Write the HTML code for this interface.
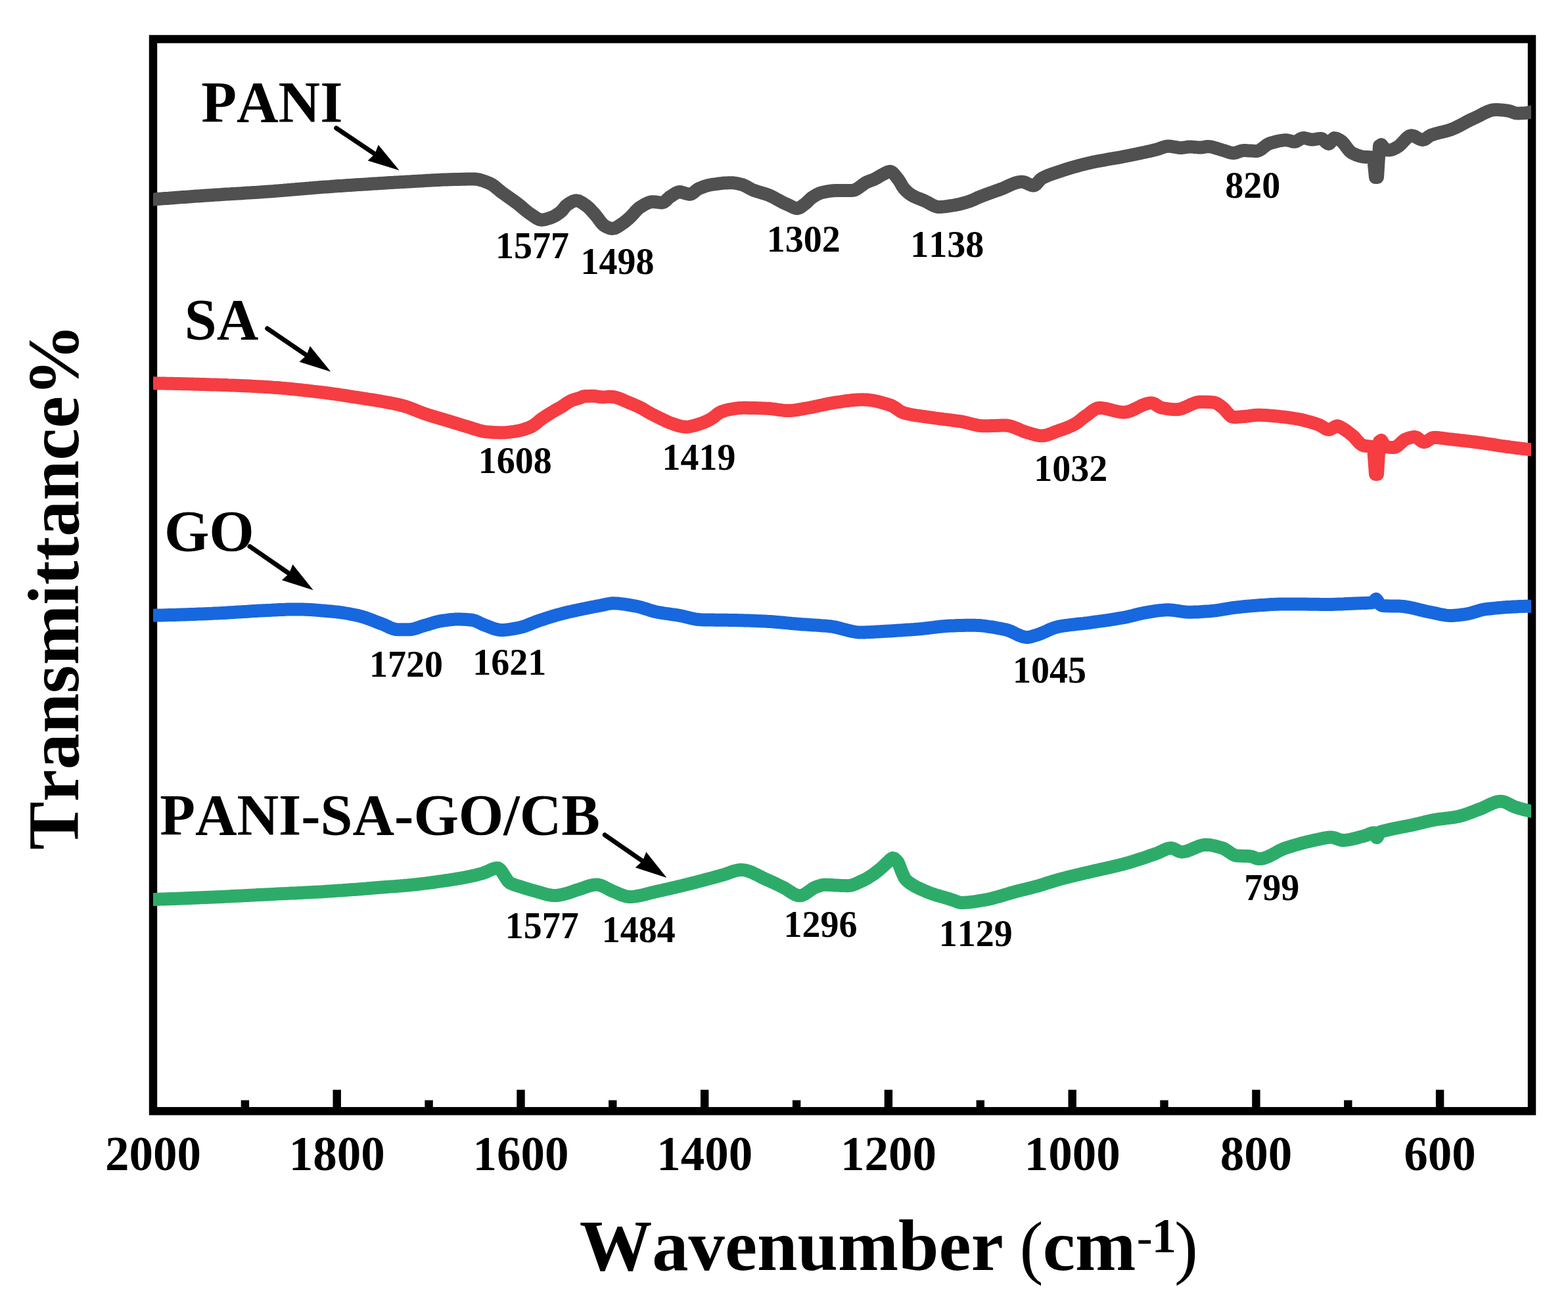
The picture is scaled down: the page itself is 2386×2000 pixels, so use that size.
<!DOCTYPE html><html><head><meta charset="utf-8"><title>FTIR spectra</title><style>html,body{margin:0;padding:0;background:#fff;}svg{display:block;filter:blur(0.7px);}text{font-family:"Liberation Serif","Times New Roman",serif;font-weight:bold;fill:#000;font-kerning:none;}</style></head><body>
<svg xmlns="http://www.w3.org/2000/svg" width="2386" height="2000" viewBox="0 0 2386 2000">
<rect width="2386" height="2000" fill="#fff"/>
<rect x="233.0" y="59.5" width="2098.0" height="1631.7" fill="none" stroke="#000" stroke-width="12.4"/>
<defs><clipPath id="pc"><rect x="233" y="0" width="2097" height="2000"/></clipPath></defs>
<g fill="none" stroke-width="20" stroke-linejoin="round" stroke-linecap="butt" clip-path="url(#pc)">
<polyline stroke="#505050" points="224.0,303.5 233.0,303.5 236.0,303.3 239.0,303.0 242.0,302.8 245.0,302.6 248.0,302.3 251.0,302.1 254.0,301.9 257.0,301.7 260.0,301.4 263.0,301.2 266.0,301.0 269.0,300.8 272.0,300.6 275.0,300.3 278.0,300.1 281.0,299.9 284.0,299.7 287.0,299.5 290.0,299.3 293.0,299.0 296.0,298.8 299.0,298.6 302.0,298.4 305.0,298.2 308.0,298.0 311.0,297.8 314.0,297.6 317.0,297.4 318.0,297.3 320.0,297.2 323.0,297.0 326.0,296.8 329.0,296.6 332.0,296.4 335.0,296.2 338.0,296.0 341.0,295.8 344.0,295.6 347.0,295.4 350.0,295.3 353.0,295.1 356.0,294.9 359.0,294.7 362.0,294.5 365.0,294.4 368.0,294.2 371.0,294.0 374.0,293.8 377.0,293.6 380.0,293.4 383.0,293.2 386.0,293.0 389.0,292.9 392.0,292.7 395.0,292.5 398.0,292.3 401.0,292.1 404.0,291.8 406.0,291.7 407.0,291.6 410.0,291.4 413.0,291.2 416.0,291.0 419.0,290.7 422.0,290.5 425.0,290.3 428.0,290.0 431.0,289.8 434.0,289.5 437.0,289.3 440.0,289.0 443.0,288.8 446.0,288.5 449.0,288.3 452.0,288.0 455.0,287.7 458.0,287.5 461.0,287.2 464.0,287.0 467.0,286.7 470.0,286.5 473.0,286.2 476.0,286.0 479.0,285.7 482.0,285.5 485.0,285.3 488.0,285.0 491.0,284.8 494.0,284.6 497.0,284.4 500.0,284.2 503.0,284.0 506.0,283.7 509.0,283.5 512.0,283.3 515.0,283.1 518.0,282.9 521.0,282.7 524.0,282.5 527.0,282.3 530.0,282.1 533.0,281.9 536.0,281.7 539.0,281.5 542.0,281.3 545.0,281.1 548.0,280.9 551.0,280.7 554.0,280.6 557.0,280.4 560.0,280.2 563.0,280.0 566.0,279.8 569.0,279.6 572.0,279.4 575.0,279.2 578.0,279.0 581.0,278.9 582.0,278.8 584.0,278.7 587.0,278.5 590.0,278.3 593.0,278.1 596.0,277.9 599.0,277.8 602.0,277.6 605.0,277.4 608.0,277.2 611.0,277.0 614.0,276.9 617.0,276.7 620.0,276.5 623.0,276.4 626.0,276.2 629.0,276.0 632.0,275.9 633.0,275.8 635.0,275.7 638.0,275.5 641.0,275.4 644.0,275.2 647.0,275.0 650.0,274.8 653.0,274.7 656.0,274.5 659.0,274.3 662.0,274.2 665.0,274.0 668.0,273.9 671.0,273.7 674.0,273.6 677.0,273.5 680.0,273.4 683.0,273.3 686.0,273.2 689.0,273.1 692.0,273.0 695.0,272.9 698.0,272.9 701.0,272.8 704.0,272.7 707.0,272.7 710.0,272.6 713.0,272.6 716.0,272.5 719.0,272.5 721.0,272.5 722.0,272.5 725.0,272.8 728.0,273.2 731.0,274.0 734.0,274.8 737.0,275.9 740.0,277.0 743.0,278.2 746.0,279.5 749.0,281.1 752.0,283.2 755.0,285.7 758.0,288.3 761.0,290.8 763.0,292.4 764.0,293.1 767.0,295.3 770.0,297.4 773.0,299.5 776.0,301.6 779.0,303.7 782.0,305.9 785.0,308.1 786.0,308.8 788.0,310.3 791.0,312.8 794.0,315.3 797.0,317.9 800.0,320.4 803.0,322.8 806.0,325.0 808.6,326.7 809.0,327.0 812.0,329.0 815.0,331.1 818.0,332.9 821.0,334.2 823.8,334.7 824.0,334.7 827.0,334.5 830.0,333.9 833.0,333.0 836.0,332.1 839.0,331.0 842.0,329.8 845.0,328.2 848.0,326.3 851.0,324.1 854.0,321.7 857.0,318.4 860.0,314.5 862.0,312.6 863.0,311.9 866.0,309.8 869.0,307.9 872.0,306.4 875.0,305.5 877.0,305.3 878.0,305.4 881.0,306.1 884.0,307.6 887.0,309.5 890.0,311.6 892.0,313.0 893.0,313.7 896.0,316.3 899.0,319.4 902.0,322.7 905.0,326.0 908.0,329.6 911.0,333.7 914.0,337.7 917.0,341.2 920.0,343.7 920.5,344.0 923.0,345.3 926.0,346.7 929.0,347.6 932.0,348.0 935.0,347.5 938.0,346.2 941.0,344.4 944.0,342.4 947.0,340.4 950.0,338.3 953.0,335.9 956.0,333.2 958.6,330.9 959.0,330.5 962.0,327.5 965.0,324.1 968.0,320.7 971.0,317.7 973.8,315.6 974.0,315.5 977.0,313.6 980.0,311.8 983.0,310.1 986.0,308.7 989.0,307.7 992.0,307.2 992.9,307.2 995.0,307.3 998.0,307.5 1001.0,307.9 1004.0,308.2 1007.0,308.4 1008.0,308.4 1010.0,307.9 1013.0,305.6 1016.0,302.6 1019.0,299.9 1019.5,299.6 1022.0,298.0 1025.0,296.0 1028.0,294.1 1031.0,292.7 1034.0,292.0 1034.8,292.0 1037.0,292.4 1040.0,293.4 1043.0,294.3 1046.0,295.1 1049.0,295.7 1050.0,295.7 1052.0,295.3 1055.0,293.4 1058.0,290.9 1061.0,288.5 1063.0,287.3 1064.0,286.9 1067.0,285.6 1070.0,284.5 1073.0,283.4 1076.0,282.5 1079.0,281.8 1082.0,281.2 1085.0,280.7 1088.0,280.3 1091.0,279.9 1094.0,279.5 1097.0,279.1 1100.0,278.8 1103.0,278.5 1106.0,278.4 1109.0,278.2 1112.0,278.2 1115.0,278.3 1118.0,278.6 1121.0,279.1 1124.0,279.7 1127.0,280.4 1127.6,280.5 1130.0,281.2 1133.0,282.5 1136.0,284.0 1139.0,285.7 1142.0,287.4 1145.0,288.9 1146.7,289.6 1148.0,290.1 1151.0,291.1 1154.0,292.0 1157.0,292.9 1160.0,293.8 1163.0,294.7 1166.0,295.6 1169.0,296.7 1169.5,296.9 1172.0,298.0 1175.0,299.4 1178.0,300.9 1181.0,302.6 1184.0,304.3 1187.0,305.9 1190.0,307.5 1192.4,308.7 1193.0,309.0 1196.0,310.4 1199.0,311.8 1201.4,312.8 1202.0,313.1 1205.0,314.6 1208.0,316.1 1211.0,317.1 1212.9,317.3 1214.0,317.2 1217.0,316.1 1220.0,314.1 1223.0,311.8 1224.3,310.9 1226.0,309.6 1229.0,306.7 1232.0,303.7 1235.0,301.1 1235.7,300.6 1238.0,299.1 1241.0,297.3 1244.0,295.6 1247.0,294.3 1250.0,293.2 1251.0,293.0 1253.0,292.6 1256.0,291.9 1259.0,291.4 1262.0,290.9 1265.0,290.5 1268.0,290.2 1271.0,290.0 1273.8,289.9 1274.0,289.9 1277.0,289.9 1280.0,289.9 1283.0,289.9 1286.0,289.9 1289.0,289.9 1292.0,289.9 1295.0,289.9 1296.7,289.9 1298.0,289.8 1301.0,289.0 1304.0,287.5 1307.0,285.5 1310.0,283.3 1313.0,281.0 1316.0,278.9 1319.0,277.2 1319.5,277.0 1322.0,276.0 1325.0,274.9 1328.0,273.8 1330.0,273.0 1331.0,272.5 1334.0,270.9 1337.0,269.1 1340.0,267.3 1342.4,266.0 1343.0,265.7 1346.0,264.1 1349.0,262.5 1352.0,261.3 1354.4,261.0 1355.0,261.0 1358.0,262.5 1361.0,265.6 1364.0,269.4 1366.6,272.7 1367.0,273.2 1370.0,277.9 1373.0,283.2 1375.7,287.1 1376.0,287.4 1379.0,290.6 1382.0,293.3 1385.0,295.6 1387.1,297.0 1388.0,297.5 1391.0,299.1 1394.0,300.5 1397.0,301.7 1400.0,302.9 1403.0,304.1 1406.0,305.3 1406.2,305.4 1409.0,306.7 1412.0,308.3 1415.0,310.0 1418.0,311.6 1421.0,313.1 1424.0,314.2 1427.0,314.9 1429.0,315.0 1430.0,315.0 1433.0,314.9 1436.0,314.6 1439.0,314.3 1442.0,313.9 1445.0,313.4 1448.0,313.0 1451.0,312.5 1452.0,312.3 1454.0,312.0 1457.0,311.4 1460.0,310.7 1463.0,310.0 1466.0,309.2 1469.0,308.4 1472.0,307.5 1474.8,306.6 1475.0,306.5 1478.0,305.4 1481.0,304.1 1484.0,302.7 1487.0,301.3 1490.0,300.0 1493.0,298.8 1496.0,297.7 1499.0,296.5 1502.0,295.4 1505.0,294.3 1508.0,293.3 1511.0,292.2 1514.0,291.1 1517.0,290.1 1520.0,289.0 1522.0,288.3 1523.0,287.9 1526.0,286.7 1529.0,285.4 1532.0,284.0 1535.0,282.6 1538.0,281.2 1541.0,280.0 1544.0,278.8 1547.0,277.9 1550.0,277.2 1553.0,276.8 1555.0,276.7 1556.0,276.8 1559.0,277.4 1562.0,278.6 1565.0,280.1 1568.0,281.4 1571.0,282.3 1573.0,282.5 1574.0,282.3 1577.0,280.2 1580.0,276.7 1583.0,273.3 1585.0,271.7 1586.0,271.1 1589.0,269.6 1592.0,268.2 1595.0,266.9 1598.0,265.8 1601.0,264.7 1604.0,263.7 1607.0,262.7 1610.0,261.7 1613.0,260.7 1616.0,259.7 1619.0,258.7 1622.0,257.8 1625.0,256.8 1628.0,255.9 1631.0,255.0 1634.0,254.2 1637.0,253.3 1640.0,252.5 1643.0,251.7 1646.0,250.9 1649.0,250.1 1652.0,249.4 1655.0,248.6 1658.0,248.0 1660.0,247.5 1661.0,247.3 1664.0,246.6 1667.0,246.0 1670.0,245.4 1673.0,244.9 1676.0,244.3 1679.0,243.8 1682.0,243.3 1685.0,242.7 1688.0,242.2 1691.0,241.7 1694.0,241.2 1697.0,240.7 1700.0,240.2 1703.0,239.6 1706.0,239.1 1709.0,238.5 1710.0,238.3 1712.0,237.9 1715.0,237.3 1718.0,236.7 1721.0,236.1 1724.0,235.5 1727.0,234.9 1730.0,234.3 1733.0,233.6 1736.0,233.0 1739.0,232.3 1742.0,231.7 1745.0,231.0 1748.0,230.4 1751.0,229.7 1754.0,229.0 1757.0,228.2 1760.0,227.5 1763.0,226.6 1766.0,225.5 1769.0,224.4 1772.0,223.5 1775.0,222.8 1778.0,222.5 1781.0,222.7 1784.0,223.1 1787.0,223.7 1790.0,224.2 1793.0,224.7 1796.0,225.0 1797.0,225.0 1799.0,224.9 1802.0,224.5 1805.0,224.0 1808.0,223.6 1810.0,223.5 1811.0,223.5 1814.0,223.6 1817.0,223.9 1820.0,224.1 1823.0,224.4 1826.0,224.5 1827.0,224.5 1829.0,224.4 1832.0,223.9 1835.0,223.3 1838.0,223.0 1841.0,223.2 1844.0,223.7 1847.0,224.4 1850.0,225.4 1853.0,226.3 1856.0,227.3 1859.0,228.2 1860.0,228.5 1862.0,229.1 1865.0,230.1 1868.0,231.1 1871.0,232.1 1874.0,232.7 1877.0,233.0 1880.0,232.6 1883.0,231.7 1886.0,230.6 1889.0,229.6 1892.0,229.0 1893.0,229.0 1895.0,229.0 1898.0,229.2 1901.0,229.4 1904.0,229.6 1907.0,229.8 1910.0,230.0 1912.0,230.0 1913.0,229.9 1916.0,229.0 1919.0,227.2 1922.0,224.9 1925.0,222.5 1928.0,220.3 1931.0,218.7 1932.0,218.3 1934.0,217.7 1937.0,216.8 1940.0,216.0 1943.0,215.2 1946.0,214.5 1949.0,214.0 1952.0,213.6 1955.0,213.3 1957.0,213.3 1958.0,213.3 1961.0,213.9 1964.0,214.7 1967.0,215.5 1970.0,215.8 1973.0,215.0 1976.0,213.2 1979.0,211.3 1982.0,210.1 1983.0,210.0 1985.0,210.1 1988.0,210.7 1991.0,211.5 1994.0,212.2 1997.0,212.5 2000.0,212.3 2003.0,211.7 2006.0,211.2 2009.0,210.8 2010.0,210.8 2012.0,211.4 2015.0,213.9 2018.0,216.9 2021.0,218.8 2022.0,219.0 2024.0,217.6 2027.0,212.8 2030.0,210.0 2033.0,210.5 2036.0,211.8 2039.0,213.4 2040.0,214.0 2042.0,215.5 2045.0,218.7 2048.0,222.7 2051.0,226.7 2054.0,230.2 2057.0,232.6 2060.0,234.1 2063.0,235.5 2066.0,236.6 2069.0,237.6 2072.0,238.3 2074.0,238.6 2075.0,238.7 2078.0,239.0 2081.0,239.1 2084.0,239.2 2087.0,239.5 2090.0,240.0 2093.0,270.0 2096.0,270.0 2099.0,222.0 2102.0,220.0 2105.0,223.9 2108.0,228.0 2111.0,228.4 2114.0,228.6 2117.0,228.2 2120.0,227.1 2123.0,225.6 2126.0,224.0 2129.0,222.0 2132.0,219.2 2135.0,216.0 2138.0,212.7 2141.0,209.8 2144.0,207.5 2147.0,206.4 2148.0,206.3 2150.0,206.6 2153.0,207.7 2156.0,209.4 2159.0,211.1 2162.0,212.4 2165.0,213.0 2168.0,212.1 2171.0,210.1 2174.0,207.8 2177.0,206.0 2180.0,204.9 2183.0,203.9 2186.0,203.1 2189.0,202.3 2192.0,201.6 2195.0,200.9 2198.0,200.1 2201.0,199.4 2204.0,198.5 2207.0,197.5 2210.0,196.4 2213.0,195.1 2216.0,193.7 2219.0,192.2 2222.0,190.7 2225.0,189.1 2228.0,187.5 2231.0,185.9 2234.0,184.3 2237.0,182.8 2240.0,181.4 2243.0,180.0 2246.0,178.6 2249.0,177.1 2252.0,175.6 2255.0,174.0 2258.0,172.4 2261.0,171.0 2264.0,169.7 2267.0,168.6 2270.0,167.7 2273.0,167.2 2276.0,167.0 2279.0,167.1 2282.0,167.2 2285.0,167.4 2288.0,167.7 2291.0,168.1 2294.0,168.5 2296.0,168.8 2297.0,169.0 2300.0,170.0 2303.0,171.2 2306.0,172.2 2308.0,172.4 2309.0,172.4 2312.0,172.4 2315.0,172.3 2318.0,172.2 2321.0,172.0 2324.0,171.6 2327.0,171.0 2330.0,170.3 2331.0,170.0 2342.0,170.0"/>
<polyline stroke="#F53D42" points="224.0,583.3 233.0,583.3 236.0,583.3 239.0,583.4 242.0,583.4 245.0,583.5 248.0,583.5 251.0,583.6 254.0,583.7 257.0,583.7 260.0,583.8 263.0,583.8 266.0,583.9 269.0,584.0 272.0,584.0 275.0,584.1 278.0,584.2 281.0,584.3 284.0,584.3 287.0,584.4 290.0,584.5 293.0,584.6 296.0,584.7 299.0,584.7 302.0,584.8 305.0,584.9 308.0,585.0 311.0,585.1 314.0,585.2 317.0,585.3 318.0,585.3 320.0,585.4 323.0,585.5 326.0,585.5 329.0,585.6 332.0,585.7 335.0,585.8 338.0,585.9 341.0,586.0 344.0,586.1 347.0,586.3 350.0,586.4 353.0,586.5 356.0,586.6 359.0,586.7 362.0,586.8 365.0,587.0 368.0,587.1 371.0,587.2 374.0,587.3 377.0,587.5 380.0,587.6 383.0,587.8 386.0,587.9 389.0,588.1 392.0,588.2 395.0,588.4 398.0,588.5 401.0,588.7 404.0,588.9 406.0,589.0 407.0,589.1 410.0,589.2 413.0,589.4 416.0,589.7 419.0,589.9 422.0,590.1 425.0,590.3 428.0,590.6 431.0,590.9 434.0,591.1 437.0,591.4 440.0,591.7 443.0,592.0 446.0,592.3 449.0,592.6 452.0,592.9 455.0,593.2 458.0,593.5 461.0,593.9 464.0,594.2 467.0,594.5 470.0,594.9 473.0,595.2 476.0,595.6 479.0,595.9 482.0,596.3 485.0,596.6 488.0,597.0 491.0,597.3 494.0,597.7 497.0,598.1 500.0,598.5 503.0,598.8 506.0,599.3 509.0,599.7 512.0,600.1 515.0,600.5 518.0,601.0 521.0,601.5 524.0,601.9 527.0,602.4 530.0,602.8 533.0,603.3 536.0,603.8 539.0,604.3 542.0,604.7 545.0,605.2 547.0,605.5 548.0,605.7 551.0,606.1 554.0,606.6 557.0,607.0 560.0,607.5 563.0,608.0 566.0,608.4 569.0,608.9 572.0,609.4 575.0,609.9 578.0,610.4 580.0,610.8 581.0,611.0 584.0,611.5 587.0,612.1 590.0,612.6 593.0,613.1 596.0,613.7 599.0,614.3 602.0,614.9 605.0,615.6 608.0,616.3 611.0,617.0 613.0,617.5 614.0,617.8 617.0,618.7 620.0,619.6 623.0,620.7 626.0,621.9 629.0,623.0 632.0,624.3 635.0,625.5 638.0,626.7 641.0,627.8 644.0,629.0 647.0,630.0 650.0,631.0 653.0,631.9 656.0,632.9 659.0,633.8 662.0,634.7 665.0,635.6 668.0,636.4 671.0,637.3 674.0,638.2 677.0,639.1 680.0,640.0 683.0,640.9 686.0,641.8 689.0,642.8 692.0,643.7 695.0,644.6 698.0,645.5 701.0,646.5 704.0,647.4 707.0,648.3 710.0,649.1 713.0,650.0 716.0,650.9 719.0,651.9 722.0,652.9 725.0,653.8 728.0,654.8 731.0,655.6 734.0,656.4 737.0,656.9 740.0,657.3 743.0,657.6 746.0,657.8 749.0,658.0 752.0,658.2 755.0,658.3 758.0,658.4 761.0,658.5 762.9,658.5 764.0,658.5 767.0,658.4 770.0,658.2 773.0,657.9 776.0,657.6 779.0,657.2 782.0,656.8 785.0,656.3 785.7,656.2 788.0,655.8 791.0,655.2 794.0,654.5 797.0,653.6 800.0,652.7 803.0,651.6 806.0,650.4 808.6,649.3 809.0,649.1 812.0,647.3 815.0,645.1 818.0,642.6 821.0,640.0 823.8,637.9 824.0,637.8 827.0,635.7 830.0,633.7 833.0,631.8 836.0,629.9 839.0,628.0 842.0,626.2 845.0,624.5 848.0,622.8 851.0,621.1 854.0,619.4 854.3,619.2 857.0,617.5 860.0,615.4 863.0,613.4 866.0,611.5 869.0,609.9 869.5,609.7 872.0,608.7 875.0,607.8 878.0,606.9 881.0,606.1 884.0,605.1 884.8,604.8 887.0,603.6 888.6,603.1 890.0,603.0 893.0,602.9 896.0,602.9 899.0,602.8 902.0,602.8 903.0,602.8 905.0,602.9 908.0,603.3 911.0,603.8 914.0,604.3 917.0,604.5 920.0,604.4 923.0,604.1 926.0,603.8 928.6,603.7 929.0,603.7 932.0,603.9 935.0,604.4 938.0,605.2 941.0,606.1 944.0,607.2 947.0,608.4 950.0,609.7 953.0,611.1 956.0,612.4 959.0,613.6 960.0,614.0 962.0,614.8 965.0,616.1 968.0,617.4 971.0,618.8 974.0,620.3 975.2,620.9 977.0,621.8 980.0,623.5 983.0,625.3 986.0,627.1 989.0,628.8 990.5,629.6 992.0,630.4 995.0,631.9 998.0,633.5 1001.0,634.9 1004.0,636.4 1005.7,637.2 1007.0,637.8 1010.0,639.3 1013.0,640.8 1016.0,642.1 1019.0,643.4 1021.0,644.1 1022.0,644.4 1025.0,645.5 1028.0,646.5 1031.0,647.5 1034.0,648.3 1037.0,649.0 1040.0,649.6 1043.0,649.8 1043.8,649.8 1046.0,649.7 1049.0,649.4 1052.0,648.8 1055.0,648.1 1058.0,647.3 1061.0,646.3 1064.0,645.4 1066.7,644.5 1067.0,644.4 1070.0,643.3 1073.0,642.1 1076.0,640.7 1079.0,639.2 1081.9,637.6 1082.0,637.5 1085.0,635.6 1088.0,633.2 1091.0,630.8 1094.0,628.6 1097.0,627.0 1100.0,625.9 1103.0,624.9 1106.0,624.1 1109.0,623.4 1112.0,622.9 1112.4,622.8 1115.0,622.4 1118.0,621.9 1121.0,621.5 1124.0,621.1 1127.0,620.9 1130.0,620.8 1133.0,620.8 1136.0,620.8 1139.0,620.9 1142.0,620.9 1145.0,621.0 1148.0,621.1 1151.0,621.1 1154.0,621.2 1157.0,621.3 1160.0,621.4 1163.0,621.5 1166.0,621.7 1167.0,621.7 1169.0,621.8 1172.0,622.0 1175.0,622.4 1178.0,622.7 1181.0,623.2 1184.0,623.6 1187.0,624.0 1190.0,624.4 1193.0,624.7 1196.0,624.9 1199.0,625.0 1200.0,625.0 1202.0,625.0 1205.0,624.8 1208.0,624.5 1211.0,624.1 1214.0,623.6 1217.0,623.1 1220.0,622.6 1223.0,622.0 1225.0,621.7 1226.0,621.5 1229.0,621.0 1232.0,620.5 1235.0,619.9 1238.0,619.2 1241.0,618.6 1244.0,618.0 1247.0,617.3 1250.0,616.7 1253.0,616.1 1256.0,615.4 1259.0,614.7 1262.0,614.2 1263.0,614.0 1265.0,613.7 1268.0,613.2 1271.0,612.7 1274.0,612.2 1277.0,611.8 1280.0,611.3 1283.0,610.9 1286.0,610.4 1289.0,610.0 1292.0,609.7 1295.0,609.3 1298.0,609.0 1301.0,608.8 1304.0,608.6 1307.0,608.4 1310.0,608.3 1313.0,608.3 1316.0,608.4 1319.0,608.5 1322.0,608.8 1325.0,609.2 1328.0,609.7 1331.0,610.2 1334.0,610.8 1337.0,611.5 1340.0,612.3 1343.0,613.1 1346.0,614.0 1349.0,614.8 1352.0,615.8 1355.0,616.7 1358.0,618.0 1361.0,619.8 1364.0,621.9 1367.0,624.0 1370.0,626.0 1373.0,627.6 1375.0,628.3 1376.0,628.6 1379.0,629.4 1382.0,630.1 1385.0,630.7 1388.0,631.3 1391.0,631.8 1394.0,632.3 1397.0,632.7 1400.0,633.2 1403.0,633.6 1406.0,634.0 1409.0,634.4 1412.0,634.8 1413.0,635.0 1415.0,635.3 1418.0,635.7 1421.0,636.2 1424.0,636.6 1427.0,636.9 1430.0,637.3 1433.0,637.7 1436.0,638.1 1439.0,638.4 1442.0,638.8 1445.0,639.2 1448.0,639.6 1451.0,640.0 1454.0,640.4 1457.0,640.8 1460.0,641.2 1463.0,641.7 1466.0,642.2 1469.0,642.9 1472.0,643.6 1475.0,644.4 1478.0,645.2 1481.0,645.9 1484.0,646.6 1487.0,647.3 1490.0,647.8 1493.0,648.1 1496.0,648.3 1497.0,648.3 1499.0,648.3 1502.0,648.3 1505.0,648.2 1508.0,648.1 1511.0,648.0 1514.0,647.9 1517.0,647.8 1520.0,647.7 1523.0,647.6 1526.0,647.5 1529.0,647.5 1530.0,647.5 1532.0,647.6 1535.0,648.0 1538.0,648.7 1541.0,649.7 1544.0,650.8 1547.0,652.0 1550.0,653.3 1553.0,654.6 1556.0,655.9 1559.0,657.0 1562.0,658.0 1563.0,658.3 1565.0,658.9 1568.0,659.7 1571.0,660.7 1574.0,661.5 1577.0,662.3 1580.0,662.9 1583.0,663.2 1585.0,663.3 1586.0,663.3 1589.0,663.0 1592.0,662.3 1595.0,661.5 1598.0,660.4 1601.0,659.3 1604.0,658.1 1607.0,656.9 1610.0,655.8 1613.0,654.8 1616.0,653.7 1619.0,652.7 1622.0,651.6 1625.0,650.4 1628.0,649.1 1631.0,647.8 1634.0,646.3 1635.0,645.8 1637.0,644.6 1640.0,642.6 1643.0,640.2 1646.0,637.8 1649.0,635.4 1652.0,633.3 1655.0,631.2 1658.0,628.8 1661.0,626.4 1664.0,624.3 1667.0,622.5 1670.0,621.2 1673.0,620.8 1676.0,620.9 1679.0,621.3 1682.0,621.8 1685.0,622.5 1688.0,623.2 1691.0,624.0 1694.0,624.8 1697.0,625.6 1700.0,626.3 1703.0,626.9 1706.0,627.3 1709.0,627.5 1710.0,627.5 1712.0,627.4 1715.0,626.9 1718.0,626.2 1721.0,625.1 1724.0,623.8 1727.0,622.4 1730.0,620.9 1733.0,619.4 1736.0,617.9 1739.0,616.5 1742.0,615.3 1745.0,614.4 1748.0,613.7 1751.0,613.3 1752.0,613.3 1754.0,613.6 1757.0,614.8 1760.0,616.7 1763.0,618.6 1766.0,620.2 1768.0,620.8 1769.0,621.0 1772.0,621.5 1775.0,622.0 1778.0,622.4 1781.0,622.8 1784.0,623.1 1787.0,623.2 1790.0,623.3 1793.0,623.1 1796.0,622.5 1799.0,621.6 1802.0,620.4 1805.0,619.1 1808.0,617.7 1811.0,616.3 1814.0,615.0 1817.0,613.8 1820.0,612.8 1823.0,612.1 1826.0,611.7 1827.0,611.7 1829.0,611.7 1832.0,611.8 1835.0,611.8 1838.0,611.9 1841.0,612.1 1844.0,612.3 1847.0,612.5 1850.0,613.3 1853.0,614.9 1856.0,617.0 1859.0,619.3 1860.0,620.0 1862.0,621.7 1865.0,624.9 1868.0,628.4 1871.0,631.7 1874.0,634.1 1877.0,635.0 1880.0,634.9 1883.0,634.8 1886.0,634.6 1889.0,634.3 1892.0,634.1 1893.0,634.0 1895.0,633.8 1898.0,633.5 1901.0,633.1 1904.0,632.6 1907.0,632.2 1910.0,631.9 1913.0,631.7 1915.0,631.7 1916.0,631.7 1919.0,631.8 1922.0,631.9 1925.0,632.1 1928.0,632.3 1931.0,632.5 1934.0,632.8 1937.0,633.0 1940.0,633.3 1943.0,633.6 1946.0,633.8 1949.0,634.2 1952.0,634.5 1955.0,634.8 1958.0,635.2 1961.0,635.6 1964.0,636.1 1967.0,636.5 1970.0,637.0 1973.0,637.5 1976.0,638.0 1979.0,638.6 1982.0,639.3 1985.0,640.0 1988.0,640.8 1991.0,641.6 1994.0,642.4 1997.0,643.3 2000.0,644.3 2003.0,645.3 2006.0,646.3 2007.0,646.7 2009.0,647.6 2012.0,649.4 2015.0,651.3 2018.0,653.0 2021.0,653.9 2022.0,654.0 2024.0,653.6 2027.0,652.1 2030.0,650.2 2033.0,648.7 2035.0,648.3 2036.0,648.4 2039.0,649.8 2040.0,650.3 2042.0,651.3 2045.0,653.1 2048.0,655.1 2051.0,657.3 2054.0,659.6 2057.0,662.0 2058.0,662.8 2060.0,664.6 2063.0,667.9 2066.0,671.4 2069.0,674.6 2072.0,677.0 2074.0,678.0 2075.0,678.3 2078.0,678.8 2081.0,679.1 2084.0,679.4 2087.0,679.9 2090.0,681.0 2093.0,722.0 2096.0,722.0 2099.0,672.0 2102.0,670.0 2105.0,674.9 2108.0,680.0 2111.0,680.4 2114.0,680.7 2117.0,680.9 2120.0,681.0 2121.0,681.0 2123.0,680.7 2126.0,679.1 2129.0,676.7 2132.0,673.9 2135.0,671.1 2138.0,668.9 2140.0,668.0 2141.0,667.7 2144.0,666.7 2147.0,665.8 2150.0,665.2 2153.0,665.0 2156.0,665.9 2159.0,668.1 2162.0,670.7 2165.0,672.6 2167.0,673.0 2168.0,672.9 2171.0,671.8 2174.0,669.8 2177.0,667.8 2180.0,666.3 2182.0,666.0 2183.0,666.0 2186.0,666.1 2189.0,666.3 2192.0,666.6 2195.0,667.0 2198.0,667.4 2201.0,667.8 2204.0,668.2 2207.0,668.5 2210.0,668.8 2213.0,669.2 2216.0,669.5 2219.0,669.8 2222.0,670.2 2225.0,670.5 2228.0,670.8 2231.0,671.2 2234.0,671.5 2237.0,671.9 2240.0,672.3 2243.0,672.6 2246.0,673.0 2249.0,673.4 2252.0,673.8 2255.0,674.2 2258.0,674.6 2261.0,675.1 2264.0,675.5 2267.0,676.0 2270.0,676.4 2273.0,676.9 2276.0,677.4 2279.0,677.9 2282.0,678.3 2285.0,678.8 2288.0,679.2 2290.0,679.5 2291.0,679.6 2294.0,680.0 2297.0,680.4 2300.0,680.8 2303.0,681.2 2306.0,681.6 2309.0,682.0 2312.0,682.3 2315.0,682.7 2318.0,683.0 2321.0,683.4 2324.0,683.7 2327.0,684.1 2330.0,684.4 2331.0,684.5 2342.0,684.5"/>
<polyline stroke="#1767DF" points="224.0,936.7 233.0,936.7 236.0,936.6 239.0,936.6 242.0,936.5 245.0,936.4 248.0,936.4 251.0,936.3 254.0,936.2 257.0,936.1 260.0,936.0 263.0,936.0 266.0,935.9 269.0,935.8 272.0,935.7 275.0,935.6 278.0,935.5 281.0,935.4 284.0,935.3 287.0,935.2 290.0,935.1 293.0,935.0 296.0,934.9 299.0,934.7 302.0,934.6 305.0,934.5 308.0,934.4 311.0,934.3 314.0,934.2 317.0,934.0 318.0,934.0 320.0,933.9 323.0,933.8 326.0,933.6 329.0,933.5 332.0,933.4 335.0,933.2 338.0,933.0 341.0,932.9 344.0,932.7 347.0,932.5 350.0,932.3 353.0,932.2 356.0,932.0 359.0,931.8 362.0,931.6 365.0,931.4 368.0,931.2 371.0,931.0 374.0,930.9 377.0,930.7 380.0,930.5 383.0,930.3 386.0,930.1 389.0,930.0 392.0,929.8 395.0,929.6 398.0,929.5 401.0,929.3 404.0,929.2 406.0,929.1 407.0,929.1 410.0,928.9 413.0,928.8 416.0,928.6 419.0,928.5 422.0,928.3 425.0,928.1 428.0,928.0 431.0,927.9 434.0,927.7 437.0,927.6 440.0,927.5 443.0,927.5 446.0,927.4 449.0,927.4 450.0,927.4 452.0,927.4 455.0,927.4 458.0,927.5 461.0,927.6 464.0,927.7 467.0,927.8 470.0,927.9 473.0,928.1 476.0,928.3 479.0,928.5 482.0,928.7 485.0,928.9 488.0,929.2 491.0,929.4 494.0,929.7 497.0,930.0 500.0,930.2 503.0,930.5 506.0,930.8 509.0,931.1 512.0,931.4 515.0,931.7 518.0,932.1 521.0,932.5 524.0,933.0 527.0,933.5 530.0,934.0 533.0,934.6 536.0,935.2 539.0,935.8 542.0,936.4 545.0,937.1 547.0,937.6 548.0,937.8 551.0,938.6 554.0,939.5 557.0,940.5 560.0,941.6 563.0,942.7 566.0,943.8 569.0,945.0 572.0,946.2 575.0,947.4 578.0,948.5 581.0,949.6 582.0,950.0 584.0,950.8 587.0,952.1 590.0,953.5 593.0,955.0 596.0,956.2 599.0,957.3 602.0,958.0 605.0,958.3 608.0,958.3 611.0,958.3 614.0,958.3 617.0,958.3 620.0,958.3 622.0,958.3 623.0,958.3 626.0,958.0 629.0,957.4 632.0,956.6 635.0,955.7 638.0,954.6 641.0,953.6 644.0,952.6 647.0,951.7 650.0,950.9 653.0,950.0 656.0,949.0 659.0,948.1 662.0,947.2 665.0,946.4 668.0,945.7 671.0,945.2 672.0,945.0 674.0,944.7 677.0,944.3 680.0,943.9 683.0,943.5 686.0,943.1 689.0,942.9 692.0,942.6 695.0,942.5 697.0,942.5 698.0,942.5 701.0,942.6 704.0,942.7 707.0,942.8 710.0,943.0 713.0,943.2 716.0,943.5 718.0,943.7 719.0,943.8 722.0,944.6 725.0,945.7 728.0,947.1 731.0,948.6 734.0,950.1 737.0,951.3 738.0,951.7 740.0,952.4 743.0,953.5 746.0,954.7 749.0,955.9 752.0,956.9 755.0,957.8 758.0,958.5 761.0,958.9 763.0,959.0 764.0,959.0 767.0,958.9 770.0,958.6 773.0,958.3 776.0,957.9 779.0,957.4 782.0,956.9 785.0,956.4 788.0,955.8 791.0,955.2 794.0,954.4 797.0,953.4 800.0,952.4 803.0,951.3 806.0,950.1 809.0,948.9 812.0,947.7 815.0,946.5 818.0,945.4 821.0,944.3 822.0,944.0 824.0,943.4 827.0,942.4 830.0,941.4 833.0,940.5 836.0,939.5 839.0,938.6 842.0,937.7 845.0,936.8 848.0,935.9 851.0,935.1 854.0,934.3 855.0,934.0 857.0,933.5 860.0,932.8 863.0,932.0 866.0,931.3 869.0,930.7 872.0,930.0 875.0,929.4 878.0,928.7 880.0,928.3 881.0,928.1 884.0,927.5 887.0,926.8 890.0,926.2 893.0,925.6 896.0,925.0 899.0,924.4 902.0,923.8 905.0,923.2 908.0,922.6 911.0,922.1 913.0,921.7 914.0,921.5 917.0,920.9 920.0,920.2 923.0,919.5 926.0,919.0 929.0,918.5 932.0,918.3 933.0,918.3 935.0,918.3 938.0,918.4 941.0,918.6 944.0,918.9 947.0,919.3 950.0,919.7 953.0,920.1 956.0,920.6 959.0,921.1 962.0,921.6 965.0,922.2 967.0,922.5 968.0,922.7 971.0,923.3 974.0,924.1 977.0,924.9 980.0,925.9 983.0,926.8 986.0,927.8 989.0,928.8 992.0,929.7 995.0,930.5 998.0,931.3 1000.0,931.7 1001.0,931.9 1004.0,932.4 1007.0,932.9 1010.0,933.4 1013.0,933.8 1016.0,934.2 1019.0,934.6 1022.0,935.1 1025.0,935.5 1028.0,935.9 1031.0,936.4 1033.0,936.7 1034.0,936.9 1037.0,937.5 1040.0,938.1 1043.0,938.9 1046.0,939.6 1049.0,940.4 1052.0,941.1 1055.0,941.7 1058.0,942.3 1061.0,942.8 1064.0,943.1 1067.0,943.3 1070.0,943.4 1073.0,943.4 1076.0,943.5 1079.0,943.5 1082.0,943.6 1085.0,943.6 1088.0,943.7 1091.0,943.7 1094.0,943.7 1097.0,943.7 1100.0,943.8 1103.0,943.8 1106.0,943.8 1109.0,943.9 1112.0,943.9 1115.0,944.0 1117.0,944.0 1118.0,944.0 1121.0,944.1 1124.0,944.2 1127.0,944.2 1130.0,944.3 1133.0,944.4 1136.0,944.5 1139.0,944.6 1142.0,944.7 1145.0,944.8 1148.0,944.9 1151.0,945.1 1154.0,945.2 1157.0,945.3 1160.0,945.5 1163.0,945.6 1166.0,945.7 1167.0,945.8 1169.0,945.9 1172.0,946.1 1175.0,946.3 1178.0,946.5 1181.0,946.8 1184.0,947.0 1187.0,947.3 1190.0,947.5 1193.0,947.8 1196.0,948.1 1199.0,948.4 1202.0,948.7 1205.0,949.0 1208.0,949.2 1211.0,949.5 1214.0,949.8 1217.0,950.0 1220.0,950.2 1223.0,950.4 1226.0,950.6 1229.0,950.8 1232.0,951.0 1235.0,951.2 1238.0,951.4 1241.0,951.6 1244.0,951.7 1247.0,951.9 1250.0,952.2 1253.0,952.4 1256.0,952.6 1259.0,952.9 1262.0,953.2 1263.0,953.3 1265.0,953.5 1268.0,954.0 1271.0,954.6 1274.0,955.3 1277.0,956.0 1280.0,956.8 1283.0,957.6 1286.0,958.4 1289.0,959.2 1292.0,959.9 1295.0,960.6 1298.0,961.2 1301.0,961.8 1304.0,962.2 1307.0,962.4 1310.0,962.5 1313.0,962.5 1316.0,962.4 1319.0,962.3 1322.0,962.2 1325.0,962.1 1328.0,961.9 1331.0,961.8 1334.0,961.6 1337.0,961.4 1340.0,961.2 1343.0,961.0 1346.0,960.9 1347.0,960.8 1349.0,960.7 1352.0,960.5 1355.0,960.4 1358.0,960.2 1361.0,960.0 1364.0,959.8 1367.0,959.6 1370.0,959.4 1373.0,959.2 1376.0,959.0 1379.0,958.8 1382.0,958.6 1385.0,958.4 1388.0,958.2 1391.0,958.0 1394.0,957.7 1397.0,957.5 1400.0,957.2 1403.0,957.0 1406.0,956.6 1409.0,956.3 1412.0,956.0 1415.0,955.6 1418.0,955.2 1421.0,954.9 1424.0,954.5 1427.0,954.1 1430.0,953.8 1433.0,953.5 1436.0,953.2 1439.0,953.0 1442.0,952.8 1445.0,952.6 1447.0,952.5 1448.0,952.5 1451.0,952.4 1454.0,952.2 1457.0,952.1 1460.0,952.0 1463.0,952.0 1466.0,951.9 1469.0,951.8 1472.0,951.8 1475.0,951.7 1478.0,951.7 1480.0,951.7 1481.0,951.7 1484.0,951.8 1487.0,951.9 1490.0,952.1 1493.0,952.3 1496.0,952.6 1499.0,952.9 1502.0,953.3 1505.0,953.8 1508.0,954.2 1511.0,954.7 1514.0,955.2 1517.0,955.8 1520.0,956.3 1523.0,956.9 1526.0,957.5 1529.0,958.1 1530.0,958.3 1532.0,958.8 1535.0,959.7 1538.0,960.9 1541.0,962.3 1544.0,963.8 1547.0,965.2 1550.0,966.6 1553.0,967.8 1556.0,968.9 1559.0,969.6 1562.0,970.0 1563.0,970.0 1565.0,969.9 1568.0,969.4 1571.0,968.6 1574.0,967.6 1577.0,966.7 1580.0,965.8 1583.0,964.6 1586.0,963.4 1589.0,962.1 1592.0,960.7 1595.0,959.3 1598.0,958.0 1601.0,956.8 1604.0,955.7 1607.0,954.7 1610.0,954.0 1613.0,953.4 1616.0,952.9 1619.0,952.4 1622.0,952.0 1625.0,951.6 1628.0,951.2 1631.0,950.8 1634.0,950.5 1637.0,950.1 1640.0,949.8 1643.0,949.5 1646.0,949.2 1649.0,948.9 1652.0,948.5 1655.0,948.2 1658.0,947.8 1660.0,947.5 1661.0,947.4 1664.0,946.9 1667.0,946.5 1670.0,946.1 1673.0,945.7 1676.0,945.3 1679.0,944.9 1682.0,944.5 1685.0,944.0 1688.0,943.6 1691.0,943.1 1694.0,942.7 1697.0,942.2 1700.0,941.7 1703.0,941.2 1706.0,940.7 1709.0,940.2 1710.0,940.0 1712.0,939.6 1715.0,939.0 1718.0,938.3 1721.0,937.6 1724.0,936.8 1727.0,936.0 1730.0,935.3 1733.0,934.5 1736.0,933.9 1739.0,933.2 1742.0,932.7 1743.0,932.5 1745.0,932.2 1748.0,931.7 1751.0,931.2 1754.0,930.7 1757.0,930.2 1760.0,929.7 1763.0,929.3 1766.0,928.9 1769.0,928.7 1772.0,928.4 1775.0,928.3 1777.0,928.3 1778.0,928.3 1781.0,928.4 1784.0,928.7 1787.0,929.0 1790.0,929.5 1793.0,929.9 1796.0,930.4 1799.0,930.8 1802.0,931.2 1805.0,931.5 1808.0,931.7 1810.0,931.7 1811.0,931.7 1814.0,931.7 1817.0,931.6 1820.0,931.5 1823.0,931.4 1826.0,931.2 1829.0,931.0 1832.0,930.8 1835.0,930.6 1838.0,930.4 1841.0,930.2 1843.0,930.0 1844.0,929.9 1847.0,929.6 1850.0,929.3 1853.0,928.8 1856.0,928.4 1859.0,927.9 1862.0,927.3 1865.0,926.8 1868.0,926.3 1871.0,925.8 1874.0,925.4 1877.0,925.0 1880.0,924.6 1883.0,924.3 1886.0,924.0 1889.0,923.6 1892.0,923.3 1895.0,923.0 1898.0,922.7 1901.0,922.4 1904.0,922.2 1907.0,921.9 1910.0,921.7 1913.0,921.5 1916.0,921.3 1919.0,921.1 1922.0,920.9 1925.0,920.7 1928.0,920.5 1931.0,920.3 1934.0,920.1 1937.0,919.9 1940.0,919.8 1943.0,919.7 1946.0,919.6 1949.0,919.5 1952.0,919.4 1955.0,919.4 1956.0,919.4 1958.0,919.4 1961.0,919.4 1964.0,919.4 1967.0,919.4 1970.0,919.5 1973.0,919.5 1976.0,919.5 1979.0,919.5 1982.0,919.6 1985.0,919.6 1988.0,919.6 1991.0,919.7 1994.0,919.7 1997.0,919.7 2000.0,919.8 2003.0,919.8 2006.0,919.8 2009.0,919.9 2012.0,919.9 2015.0,919.9 2018.0,919.9 2021.0,919.9 2024.0,919.9 2027.0,919.9 2030.0,919.8 2033.0,919.7 2036.0,919.6 2039.0,919.5 2042.0,919.4 2045.0,919.3 2048.0,919.1 2051.0,919.0 2054.0,918.8 2057.0,918.7 2060.0,918.5 2063.0,918.4 2065.0,918.3 2066.0,918.3 2069.0,918.2 2072.0,918.1 2075.0,918.0 2078.0,917.9 2081.0,917.7 2084.0,917.5 2087.0,917.2 2089.0,917.0 2090.0,916.4 2093.0,912.5 2094.0,912.0 2096.0,914.1 2099.0,919.0 2102.0,921.3 2104.0,922.0 2105.0,922.1 2108.0,922.2 2111.0,922.3 2114.0,922.4 2117.0,922.4 2120.0,922.4 2123.0,922.5 2126.0,922.5 2129.0,922.6 2131.0,922.7 2132.0,922.8 2135.0,923.0 2138.0,923.3 2141.0,923.8 2144.0,924.3 2147.0,925.0 2150.0,925.6 2153.0,926.3 2156.0,927.1 2159.0,927.8 2162.0,928.6 2165.0,929.3 2168.0,930.0 2171.0,930.7 2174.0,931.3 2175.0,931.5 2177.0,931.9 2180.0,932.5 2183.0,933.1 2186.0,933.8 2189.0,934.5 2192.0,935.1 2195.0,935.7 2198.0,936.2 2201.0,936.6 2204.0,936.9 2207.0,937.0 2208.0,937.0 2210.0,937.0 2213.0,936.8 2216.0,936.6 2219.0,936.3 2222.0,935.9 2225.0,935.5 2228.0,935.1 2230.0,934.8 2231.0,934.7 2234.0,934.1 2237.0,933.4 2240.0,932.6 2243.0,931.7 2246.0,930.8 2249.0,929.9 2252.0,929.0 2255.0,928.2 2258.0,927.6 2261.0,927.1 2262.0,927.0 2264.0,926.8 2267.0,926.5 2270.0,926.2 2273.0,925.9 2276.0,925.6 2279.0,925.3 2282.0,925.0 2285.0,924.8 2288.0,924.5 2291.0,924.3 2294.0,924.1 2297.0,923.9 2300.0,923.7 2303.0,923.5 2306.0,923.4 2309.0,923.2 2312.0,923.1 2315.0,923.0 2318.0,922.9 2321.0,922.8 2324.0,922.8 2327.0,922.7 2330.0,922.7 2331.0,922.7 2342.0,922.7"/>
<polyline stroke="#2DAC69" points="224.0,1369.0 233.0,1369.0 236.0,1368.9 239.0,1368.8 242.0,1368.7 245.0,1368.6 248.0,1368.5 251.0,1368.4 254.0,1368.3 257.0,1368.2 260.0,1368.1 263.0,1368.0 266.0,1367.9 269.0,1367.8 272.0,1367.7 275.0,1367.5 278.0,1367.4 281.0,1367.3 284.0,1367.2 287.0,1367.1 290.0,1367.0 293.0,1366.8 296.0,1366.7 299.0,1366.6 302.0,1366.5 305.0,1366.3 308.0,1366.2 311.0,1366.1 314.0,1366.0 317.0,1365.8 318.0,1365.8 320.0,1365.7 323.0,1365.6 326.0,1365.4 329.0,1365.3 332.0,1365.2 335.0,1365.0 338.0,1364.9 341.0,1364.7 344.0,1364.6 347.0,1364.4 350.0,1364.3 353.0,1364.1 356.0,1364.0 359.0,1363.8 362.0,1363.7 365.0,1363.5 368.0,1363.4 371.0,1363.2 374.0,1363.1 377.0,1362.9 380.0,1362.7 383.0,1362.6 386.0,1362.4 389.0,1362.3 392.0,1362.1 395.0,1362.0 398.0,1361.8 401.0,1361.7 404.0,1361.5 406.0,1361.4 407.0,1361.4 410.0,1361.2 413.0,1361.1 416.0,1360.9 419.0,1360.8 422.0,1360.6 425.0,1360.5 428.0,1360.3 431.0,1360.2 434.0,1360.1 437.0,1359.9 440.0,1359.8 443.0,1359.6 446.0,1359.5 449.0,1359.4 452.0,1359.2 455.0,1359.1 458.0,1358.9 461.0,1358.8 464.0,1358.6 467.0,1358.5 470.0,1358.3 473.0,1358.2 476.0,1358.0 479.0,1357.8 482.0,1357.7 485.0,1357.5 488.0,1357.4 491.0,1357.2 494.0,1357.0 497.0,1356.8 500.0,1356.6 503.0,1356.4 506.0,1356.2 509.0,1356.0 512.0,1355.8 515.0,1355.6 518.0,1355.4 521.0,1355.2 524.0,1355.0 527.0,1354.8 530.0,1354.6 533.0,1354.3 536.0,1354.1 539.0,1353.9 542.0,1353.7 545.0,1353.4 548.0,1353.2 551.0,1353.0 554.0,1352.7 557.0,1352.5 560.0,1352.2 563.0,1352.0 566.0,1351.8 569.0,1351.5 572.0,1351.3 575.0,1351.1 578.0,1350.8 581.0,1350.6 582.0,1350.5 584.0,1350.3 587.0,1350.1 590.0,1349.9 593.0,1349.6 596.0,1349.4 599.0,1349.2 602.0,1349.0 605.0,1348.7 608.0,1348.5 611.0,1348.2 614.0,1348.0 617.0,1347.7 620.0,1347.5 623.0,1347.2 626.0,1346.9 629.0,1346.6 630.0,1346.5 632.0,1346.3 635.0,1346.0 638.0,1345.6 641.0,1345.3 644.0,1344.9 647.0,1344.6 650.0,1344.2 653.0,1343.8 656.0,1343.4 659.0,1343.0 662.0,1342.6 665.0,1342.2 668.0,1341.7 671.0,1341.3 674.0,1340.9 677.0,1340.4 680.0,1340.0 683.0,1339.6 686.0,1339.1 689.0,1338.6 692.0,1338.2 695.0,1337.7 698.0,1337.2 701.0,1336.7 704.0,1336.1 707.0,1335.6 710.0,1335.0 713.0,1334.4 716.0,1333.8 719.0,1333.1 722.0,1332.4 725.0,1331.7 728.0,1330.9 731.0,1330.1 734.0,1329.3 735.0,1329.0 737.0,1328.3 740.0,1327.1 743.0,1325.7 746.0,1324.3 749.0,1323.0 752.0,1322.0 755.0,1321.3 757.0,1321.2 758.0,1321.4 761.0,1323.4 764.0,1327.2 767.0,1332.0 770.0,1336.9 773.0,1341.1 776.0,1343.9 776.2,1344.0 779.0,1345.3 782.0,1346.5 785.0,1347.5 788.0,1348.4 791.0,1349.3 791.4,1349.4 794.0,1350.2 797.0,1351.2 800.0,1352.2 803.0,1353.1 806.0,1354.0 809.0,1354.9 812.0,1355.7 814.3,1356.3 815.0,1356.5 818.0,1357.3 821.0,1358.2 824.0,1359.1 827.0,1360.0 830.0,1360.8 833.0,1361.6 836.0,1362.2 839.0,1362.7 842.0,1363.0 844.8,1363.1 845.0,1363.1 848.0,1362.9 851.0,1362.5 854.0,1361.9 857.0,1361.2 860.0,1360.5 863.0,1359.7 866.0,1358.8 869.0,1357.8 872.0,1356.7 875.0,1355.6 878.0,1354.6 880.0,1354.0 881.0,1353.7 884.0,1352.7 887.0,1351.7 890.0,1350.6 893.0,1349.5 896.0,1348.6 899.0,1347.7 902.0,1347.1 905.0,1346.7 908.0,1346.5 911.0,1346.8 914.0,1347.6 917.0,1348.8 920.0,1350.2 923.0,1351.8 926.0,1353.4 929.0,1355.0 932.0,1356.3 933.0,1356.7 935.0,1357.5 938.0,1358.7 941.0,1360.1 944.0,1361.4 947.0,1362.6 950.0,1363.6 953.0,1364.4 956.0,1364.9 958.0,1365.0 959.0,1365.0 962.0,1364.9 965.0,1364.6 968.0,1364.2 971.0,1363.7 974.0,1363.1 977.0,1362.4 980.0,1361.7 983.0,1361.0 986.0,1360.2 989.0,1359.4 992.0,1358.6 995.0,1357.9 998.0,1357.1 1000.0,1356.7 1001.0,1356.5 1004.0,1355.8 1007.0,1355.2 1010.0,1354.5 1013.0,1353.8 1016.0,1353.2 1019.0,1352.5 1022.0,1351.8 1025.0,1351.1 1028.0,1350.4 1031.0,1349.6 1034.0,1348.9 1037.0,1348.2 1040.0,1347.5 1043.0,1346.7 1046.0,1346.0 1049.0,1345.2 1050.0,1345.0 1052.0,1344.5 1055.0,1343.7 1058.0,1343.0 1061.0,1342.2 1064.0,1341.4 1067.0,1340.6 1070.0,1339.8 1073.0,1339.0 1076.0,1338.2 1079.0,1337.4 1082.0,1336.6 1085.0,1335.8 1088.0,1335.0 1091.0,1334.1 1094.0,1333.3 1097.0,1332.5 1100.0,1331.7 1103.0,1330.8 1106.0,1329.8 1109.0,1328.7 1112.0,1327.6 1115.0,1326.6 1118.0,1325.6 1121.0,1324.8 1124.0,1324.3 1127.0,1324.0 1128.0,1324.0 1130.0,1324.1 1133.0,1324.4 1136.0,1325.1 1139.0,1326.0 1142.0,1327.0 1145.0,1328.3 1148.0,1329.7 1151.0,1331.1 1154.0,1332.6 1157.0,1334.2 1160.0,1335.7 1163.0,1337.2 1166.0,1338.6 1167.0,1339.0 1169.0,1339.9 1172.0,1341.2 1175.0,1342.6 1178.0,1344.0 1181.0,1345.4 1184.0,1346.9 1187.0,1348.4 1190.0,1349.8 1192.0,1350.8 1193.0,1351.3 1196.0,1353.0 1199.0,1355.0 1202.0,1356.9 1205.0,1358.9 1208.0,1360.6 1211.0,1362.0 1214.0,1363.0 1217.0,1363.3 1220.0,1362.9 1223.0,1361.7 1226.0,1360.1 1229.0,1358.0 1232.0,1355.9 1235.0,1353.7 1238.0,1351.8 1241.0,1350.4 1242.0,1350.0 1244.0,1349.3 1247.0,1348.3 1250.0,1347.4 1253.0,1346.8 1255.0,1346.7 1256.0,1346.7 1259.0,1346.8 1262.0,1346.9 1265.0,1347.0 1268.0,1347.2 1271.0,1347.4 1274.0,1347.5 1277.0,1347.7 1280.0,1347.9 1283.0,1348.0 1286.0,1348.1 1289.0,1348.2 1290.0,1348.2 1292.0,1348.1 1295.0,1347.6 1298.0,1346.8 1301.0,1345.7 1304.0,1344.4 1307.0,1343.0 1310.0,1341.5 1312.9,1340.2 1313.0,1340.2 1316.0,1338.7 1319.0,1337.1 1322.0,1335.3 1325.0,1333.4 1328.0,1331.5 1328.1,1331.4 1331.0,1329.3 1334.0,1327.0 1337.0,1324.6 1340.0,1322.1 1343.0,1319.5 1343.3,1319.2 1346.0,1316.7 1349.0,1313.8 1351.0,1312.0 1352.0,1311.1 1355.0,1307.9 1358.0,1306.0 1358.6,1305.9 1361.0,1306.7 1364.0,1309.4 1366.2,1312.0 1367.0,1313.3 1370.0,1321.0 1372.3,1327.2 1373.0,1328.8 1376.0,1335.4 1377.6,1337.9 1379.0,1339.5 1382.0,1342.3 1385.0,1344.5 1388.0,1346.4 1389.0,1347.0 1391.0,1348.2 1394.0,1349.9 1397.0,1351.4 1400.0,1352.8 1403.0,1354.1 1404.3,1354.7 1406.0,1355.5 1409.0,1356.7 1412.0,1358.0 1415.0,1359.2 1418.0,1360.3 1419.5,1360.8 1421.0,1361.3 1424.0,1362.3 1427.0,1363.2 1430.0,1364.0 1433.0,1364.9 1436.0,1365.7 1439.0,1366.6 1442.0,1367.5 1442.4,1367.6 1445.0,1368.4 1448.0,1369.4 1450.0,1370.0 1451.0,1370.3 1454.0,1371.5 1457.0,1372.7 1460.0,1373.6 1463.0,1374.0 1466.0,1374.0 1469.0,1373.8 1472.0,1373.6 1475.0,1373.3 1478.0,1372.9 1481.0,1372.5 1484.0,1372.1 1487.0,1371.6 1490.0,1371.1 1493.0,1370.6 1496.0,1370.2 1497.0,1370.0 1499.0,1369.7 1502.0,1369.1 1505.0,1368.5 1508.0,1367.8 1511.0,1367.0 1514.0,1366.2 1517.0,1365.4 1520.0,1364.6 1523.0,1363.7 1526.0,1362.8 1529.0,1361.9 1532.0,1361.0 1535.0,1360.1 1538.0,1359.2 1541.0,1358.3 1544.0,1357.5 1547.0,1356.7 1550.0,1355.9 1553.0,1355.2 1556.0,1354.4 1559.0,1353.7 1562.0,1353.0 1565.0,1352.2 1568.0,1351.5 1571.0,1350.7 1574.0,1349.9 1577.0,1349.1 1580.0,1348.3 1583.0,1347.4 1586.0,1346.5 1589.0,1345.6 1592.0,1344.6 1595.0,1343.6 1598.0,1342.7 1601.0,1341.7 1604.0,1340.8 1607.0,1339.9 1610.0,1339.0 1613.0,1338.2 1616.0,1337.4 1619.0,1336.6 1622.0,1335.8 1625.0,1335.1 1628.0,1334.3 1631.0,1333.6 1634.0,1332.9 1637.0,1332.1 1640.0,1331.4 1643.0,1330.7 1646.0,1330.0 1649.0,1329.3 1652.0,1328.6 1655.0,1327.9 1658.0,1327.2 1660.0,1326.7 1661.0,1326.5 1664.0,1325.8 1667.0,1325.1 1670.0,1324.4 1673.0,1323.7 1676.0,1323.0 1679.0,1322.4 1682.0,1321.7 1685.0,1321.0 1688.0,1320.4 1691.0,1319.7 1694.0,1319.0 1697.0,1318.3 1700.0,1317.6 1703.0,1316.8 1706.0,1316.1 1709.0,1315.3 1710.0,1315.0 1712.0,1314.5 1715.0,1313.6 1718.0,1312.8 1721.0,1311.9 1724.0,1311.0 1727.0,1310.0 1730.0,1309.1 1733.0,1308.1 1736.0,1307.2 1739.0,1306.2 1742.0,1305.2 1745.0,1304.2 1748.0,1303.1 1751.0,1302.1 1754.0,1301.1 1757.0,1300.0 1760.0,1299.0 1763.0,1297.8 1766.0,1296.4 1769.0,1294.9 1772.0,1293.5 1775.0,1292.2 1778.0,1291.3 1781.0,1290.8 1782.0,1290.8 1784.0,1291.1 1787.0,1292.2 1790.0,1293.8 1793.0,1295.3 1796.0,1296.4 1798.0,1296.7 1799.0,1296.7 1802.0,1296.3 1805.0,1295.7 1808.0,1294.7 1811.0,1293.6 1814.0,1292.3 1817.0,1291.0 1820.0,1289.7 1823.0,1288.5 1826.0,1287.4 1829.0,1286.6 1832.0,1286.0 1835.0,1285.8 1838.0,1285.9 1841.0,1286.2 1844.0,1286.7 1847.0,1287.3 1850.0,1288.0 1853.0,1288.8 1856.0,1289.6 1859.0,1290.5 1860.0,1290.8 1862.0,1291.5 1865.0,1293.2 1868.0,1295.1 1871.0,1297.3 1874.0,1299.3 1877.0,1301.0 1880.0,1302.2 1882.0,1302.5 1883.0,1302.6 1886.0,1302.7 1889.0,1302.8 1892.0,1302.9 1895.0,1303.0 1898.0,1303.1 1901.0,1303.2 1902.0,1303.3 1904.0,1303.6 1907.0,1304.6 1910.0,1305.8 1913.0,1306.9 1916.0,1307.3 1919.0,1307.1 1922.0,1306.6 1925.0,1305.7 1928.0,1304.6 1931.0,1303.3 1934.0,1301.8 1937.0,1300.2 1940.0,1298.6 1943.0,1296.9 1946.0,1295.3 1949.0,1293.8 1952.0,1292.4 1955.0,1291.2 1956.0,1290.9 1958.0,1290.2 1961.0,1289.3 1964.0,1288.3 1967.0,1287.4 1970.0,1286.5 1973.0,1285.6 1976.0,1284.8 1979.0,1283.9 1982.0,1283.1 1985.0,1282.4 1988.0,1281.6 1991.0,1280.9 1994.0,1280.2 1997.0,1279.5 2000.0,1278.9 2003.0,1278.3 2006.0,1277.6 2009.0,1276.9 2012.0,1276.2 2015.0,1275.6 2018.0,1275.1 2021.0,1274.8 2024.0,1274.5 2026.0,1274.5 2027.0,1274.5 2030.0,1275.1 2033.0,1276.1 2036.0,1277.3 2039.0,1278.3 2042.0,1278.9 2043.0,1278.9 2045.0,1278.9 2048.0,1278.7 2051.0,1278.3 2054.0,1277.8 2057.0,1277.2 2060.0,1276.5 2063.0,1275.8 2066.0,1275.0 2069.0,1274.2 2072.0,1273.4 2075.0,1272.6 2076.0,1272.3 2078.0,1271.7 2081.0,1270.5 2084.0,1269.2 2087.0,1268.1 2090.0,1267.5 2091.0,1267.5 2093.0,1271.2 2095.0,1275.0 2096.0,1273.9 2099.0,1267.0 2102.0,1265.7 2105.0,1264.9 2108.0,1264.2 2109.0,1264.0 2111.0,1263.5 2114.0,1262.8 2117.0,1262.1 2120.0,1261.4 2123.0,1260.8 2126.0,1260.2 2129.0,1259.6 2132.0,1259.0 2135.0,1258.4 2138.0,1257.9 2141.0,1257.3 2144.0,1256.7 2147.0,1256.1 2150.0,1255.5 2153.0,1254.8 2156.0,1254.1 2159.0,1253.4 2162.0,1252.6 2165.0,1251.9 2168.0,1251.1 2171.0,1250.4 2174.0,1249.7 2177.0,1249.0 2180.0,1248.4 2181.0,1248.2 2183.0,1247.9 2186.0,1247.4 2189.0,1246.9 2192.0,1246.5 2195.0,1246.2 2198.0,1245.8 2201.0,1245.4 2204.0,1245.1 2207.0,1244.7 2210.0,1244.3 2213.0,1243.8 2216.0,1243.3 2219.0,1242.7 2222.0,1242.0 2225.0,1241.2 2228.0,1240.3 2231.0,1239.3 2234.0,1238.2 2237.0,1237.1 2240.0,1235.9 2243.0,1234.8 2246.0,1233.6 2249.0,1232.5 2251.0,1231.8 2252.0,1231.4 2255.0,1230.2 2258.0,1228.9 2261.0,1227.4 2264.0,1226.0 2267.0,1224.5 2270.0,1223.2 2273.0,1222.0 2276.0,1221.0 2279.0,1220.2 2282.0,1219.8 2284.0,1219.7 2285.0,1219.7 2288.0,1220.3 2291.0,1221.3 2294.0,1222.7 2297.0,1224.3 2300.0,1225.9 2303.0,1227.3 2306.0,1228.5 2309.0,1229.4 2312.0,1230.3 2315.0,1231.2 2318.0,1232.0 2321.0,1232.8 2324.0,1233.5 2327.0,1234.2 2330.0,1234.8 2331.0,1235.0 2342.0,1235.0"/>
</g>
<rect x="366.7" y="1674.6" width="12.4" height="11.4" fill="#000"/><rect x="506.5" y="1658.7" width="12.4" height="27.3" fill="#000"/><rect x="646.4" y="1674.6" width="12.4" height="11.4" fill="#000"/><rect x="786.3" y="1658.7" width="12.4" height="27.3" fill="#000"/><rect x="926.1" y="1674.6" width="12.4" height="11.4" fill="#000"/><rect x="1066.0" y="1658.7" width="12.4" height="27.3" fill="#000"/><rect x="1205.9" y="1674.6" width="12.4" height="11.4" fill="#000"/><rect x="1345.7" y="1658.7" width="12.4" height="27.3" fill="#000"/><rect x="1485.6" y="1674.6" width="12.4" height="11.4" fill="#000"/><rect x="1625.5" y="1658.7" width="12.4" height="27.3" fill="#000"/><rect x="1765.3" y="1674.6" width="12.4" height="11.4" fill="#000"/><rect x="1905.2" y="1658.7" width="12.4" height="27.3" fill="#000"/><rect x="2045.1" y="1674.6" width="12.4" height="11.4" fill="#000"/><rect x="2184.9" y="1658.7" width="12.4" height="27.3" fill="#000"/>
<text x="233.0" y="1781" font-size="73" text-anchor="middle">2000</text>
<text x="512.7" y="1781" font-size="73" text-anchor="middle">1800</text>
<text x="792.5" y="1781" font-size="73" text-anchor="middle">1600</text>
<text x="1072.2" y="1781" font-size="73" text-anchor="middle">1400</text>
<text x="1351.9" y="1781" font-size="73" text-anchor="middle">1200</text>
<text x="1631.7" y="1781" font-size="73" text-anchor="middle">1000</text>
<text x="1911.4" y="1781" font-size="73" text-anchor="middle">800</text>
<text x="2191.1" y="1781" font-size="73" text-anchor="middle">600</text>
<text font-size="110.6"><tspan x="881.7" y="1932.5">Wavenumber</tspan> <tspan x="1551.5" y="1934" font-size="108" font-weight="normal">(</tspan><tspan x="1586.7" y="1933" font-size="111">cm</tspan><tspan x="1729.8" y="1907" font-size="72" font-weight="normal">-</tspan><tspan x="1752.4" y="1905.7" font-size="75">1</tspan><tspan x="1787" y="1934" font-size="108" font-weight="normal">)</tspan></text>
<text transform="translate(119,1293.5) rotate(-90)" font-size="110">Transmittance%</text>
<text x="306.3" y="184.5" font-size="88">PANI</text>
<text x="280.8" y="515.7" font-size="88">SA</text>
<text x="249.9" y="838" font-size="88">GO</text>
<text x="243.2" y="1269.5" font-size="88">PANI-SA-GO/CB</text>
<line x1="511.7" y1="195.0" x2="570.4" y2="234.3" stroke="#000" stroke-width="7" stroke-linecap="round"/><polygon points="607.5,259.2 559.6,244.5 570.4,234.3 575.7,220.4" fill="#000"/>
<line x1="406.7" y1="500.0" x2="466.4" y2="540.7" stroke="#000" stroke-width="7" stroke-linecap="round"/><polygon points="503.3,565.8 455.5,550.8 466.4,540.7 471.8,526.8" fill="#000"/>
<line x1="380.0" y1="831.7" x2="439.9" y2="873.0" stroke="#000" stroke-width="7" stroke-linecap="round"/><polygon points="476.7,898.3 428.9,883.0 439.9,873.0 445.4,859.1" fill="#000"/>
<line x1="920.3" y1="1270.8" x2="977.8" y2="1310.6" stroke="#000" stroke-width="7" stroke-linecap="round"/><polygon points="1014.5,1336.0 966.8,1320.6 977.8,1310.6 983.3,1296.8" fill="#000"/>
<text x="754.0" y="392.9" font-size="56">1577</text>
<text x="883.6" y="416.6" font-size="56">1498</text>
<text x="1166.8" y="382.8" font-size="56">1302</text>
<text x="1385.2" y="391.0" font-size="56">1138</text>
<text x="1864.2" y="301.3" font-size="56">820</text>
<text x="727.8" y="720.3" font-size="56">1608</text>
<text x="1007.5" y="715.0" font-size="56">1419</text>
<text x="1573.2" y="731.8" font-size="56">1032</text>
<text x="561.9" y="1029.7" font-size="56">1720</text>
<text x="719.2" y="1027.4" font-size="56">1621</text>
<text x="1541.0" y="1038.8" font-size="56">1045</text>
<text x="768.8" y="1428.2" font-size="56">1577</text>
<text x="915.8" y="1433.5" font-size="56">1484</text>
<text x="1192.5" y="1426.2" font-size="56">1296</text>
<text x="1428.8" y="1439.5" font-size="56">1129</text>
<text x="1893.2" y="1370.2" font-size="56">799</text>
</svg></body></html>
